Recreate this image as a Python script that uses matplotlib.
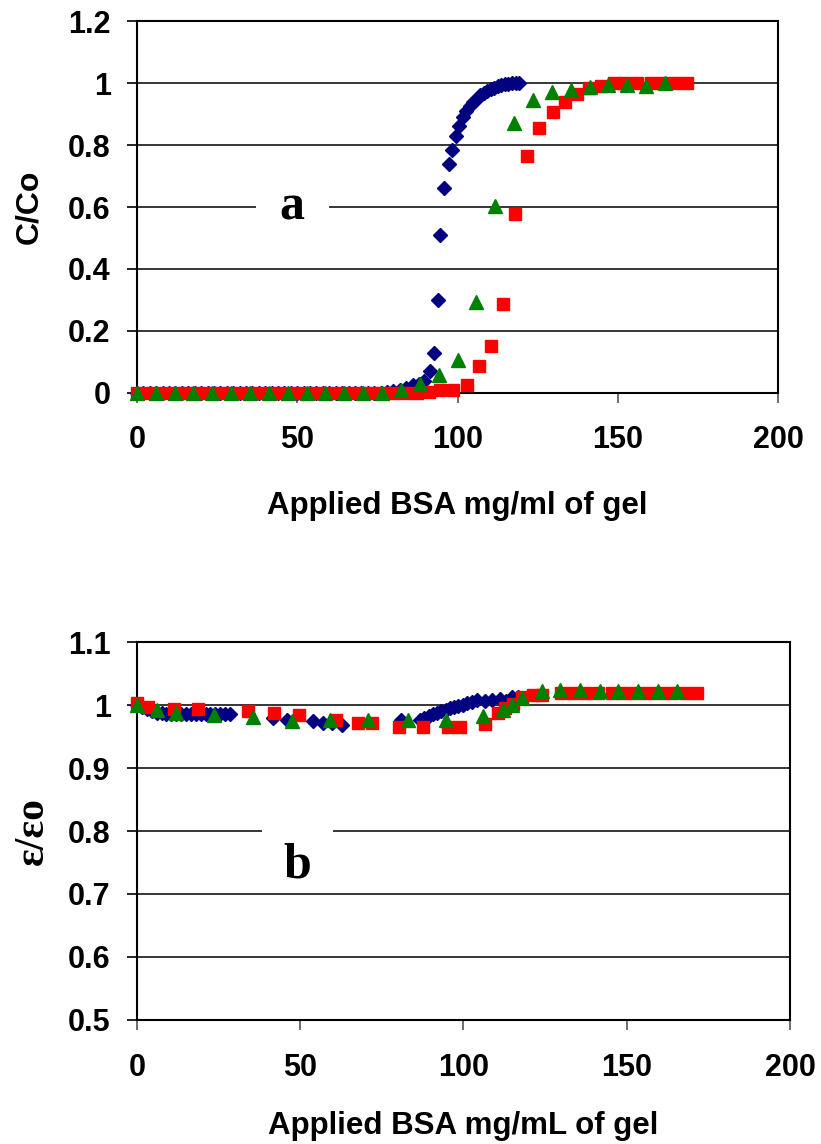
import matplotlib
matplotlib.use("Agg")
import matplotlib.pyplot as plt
from matplotlib.patches import Rectangle

# --- (a) breakthrough curves, C/Co vs applied BSA ---
blue_x_a = [0, 2, 4, 6, 8, 10, 12, 14, 16, 18, 20, 22, 24, 26, 28, 30, 32, 34, 36, 38,
            40, 42, 44, 46, 48, 50, 52, 54, 56, 58, 60, 62, 64, 66, 68, 70, 72, 74, 76, 78,
            80, 82, 84, 86, 88, 89.5, 91.3, 92.8, 94.0, 94.6, 95.9, 97.2, 98.4, 99.6, 100.6,
            101.6, 102.7, 103.8, 104.9, 106.0, 107.1, 108.2, 109.3, 110.4, 111.5, 112.6,
            113.7, 114.8, 115.9, 117.0, 118.1, 119.2]
blue_y_a = [0, 0, 0, 0, 0, 0, 0, 0, 0, 0, 0, 0, 0, 0, 0, 0, 0, 0, 0, 0,
            0, 0, 0, 0, 0, 0, 0, 0, 0, 0, 0, 0, 0, 0, 0, 0, 0, 0, 0, 0.003,
            0.005, 0.01, 0.015, 0.025, 0.03, 0.04, 0.07, 0.13, 0.30, 0.51, 0.66, 0.74, 0.785,
            0.83, 0.86, 0.89, 0.91, 0.925, 0.94, 0.95, 0.96, 0.967, 0.974, 0.98, 0.985, 0.99,
            0.993, 0.996, 0.998, 1.0, 1.0, 1.0]

red_x_a = [0, 3.8, 7.6, 11.4, 15.2, 19.0, 22.8, 26.6, 30.4, 34.2, 38.0, 41.8, 45.6, 49.4,
           53.2, 57.0, 60.8, 64.6, 68.4, 72.2, 76.0, 79.8, 83.6, 87.4, 91.2, 94.4, 98.5,
           103.0, 106.8, 110.6, 114.3, 118.0, 121.7, 125.5, 129.9, 133.6, 137.4, 141.1,
           144.9, 148.9, 152.0, 156.0, 160.4, 164.0, 168.0, 171.6]
red_y_a = [0, 0, 0, 0, 0, 0, 0, 0, 0, 0, 0, 0, 0, 0,
           0, 0, 0, 0, 0, 0, 0, 0, 0, 0, 0.003, 0.008, 0.01,
           0.025, 0.087, 0.15, 0.287, 0.577, 0.764, 0.855, 0.906, 0.94, 0.965, 0.985,
           0.99, 1.0, 1.0, 1.0, 1.0, 1.0, 1.0, 1.0]

green_x_a = [0, 5.9, 11.8, 17.6, 23.5, 29.4, 35.3, 41.2, 47.1, 53.0, 58.8, 64.7, 70.6,
             76.5, 82.4, 88.3, 94.1, 100.0, 105.9, 111.8, 117.7, 123.6, 129.5, 135.3,
             141.2, 147.1, 153.0, 158.9, 164.8]
green_y_a = [0, 0, 0, 0, 0, 0, 0, 0, 0, 0, 0, 0, 0,
             0, 0.01, 0.03, 0.058, 0.107, 0.295, 0.604, 0.87, 0.945, 0.97, 0.977,
             0.987, 0.993, 0.993, 0.99, 1.0]

# --- (b) relative dielectric value vs applied BSA ---
blue_x_b = [0, 1.5, 3, 4.5, 6, 7.5, 9, 10.5, 12, 13.5, 15, 16.5, 18, 19.5, 21, 22.5, 24,
            25.5, 27, 28.5, 41.7, 46, 54, 57, 59.7, 62.8, 81, 86.7, 88, 89.3, 90.6, 91.9,
            93.2, 94.5, 95.8, 97.1, 98.4, 99.7, 101, 102.5, 104, 106.5, 108.7, 111.2, 113,
            114.9, 116.7]
blue_y_b = [1.0, 0.997, 0.993, 0.99, 0.988, 0.987, 0.986, 0.985, 0.985, 0.985, 0.985,
            0.985, 0.985, 0.985, 0.985, 0.985, 0.985, 0.985, 0.985, 0.985, 0.979, 0.976,
            0.975, 0.972, 0.972, 0.968, 0.976, 0.976, 0.979, 0.982, 0.985, 0.987, 0.99,
            0.992, 0.995, 0.997, 0.999, 1.0, 1.003, 1.005, 1.008, 1.006, 1.008, 1.01,
            1.006, 1.012, 1.012]

red_x_b = [0, 3.4, 11.4, 18.7, 34, 42, 49.6, 61, 67.8, 72, 80.3, 87.6, 95.3, 98.9, 106.6,
           110.6, 112.7, 115.2, 117.9, 121.3, 123.9, 130, 133.5, 137.3, 141.1, 145.4,
           148.9, 152.6, 156.4, 160.2, 164.0, 167.8, 171.5]
red_y_b = [1.003, 0.997, 0.994, 0.994, 0.99, 0.987, 0.984, 0.976, 0.971, 0.971, 0.965,
           0.965, 0.965, 0.965, 0.97, 0.987, 0.995, 1.002, 1.012, 1.016, 1.016, 1.019,
           1.019, 1.019, 1.019, 1.019, 1.019, 1.019, 1.019, 1.019, 1.019, 1.019, 1.019]

green_x_b = [0, 6, 12, 23.5, 35.5, 47.5, 59, 70.6, 83, 94.6, 106, 112.1, 114.9, 117.9,
             124, 129.6, 135.7, 141.8, 147.3, 153.4, 159.6, 165.4]
green_y_b = [1.0, 0.992, 0.987, 0.984, 0.981, 0.975, 0.976, 0.976, 0.976, 0.976, 0.982,
             0.992, 1.0, 1.011, 1.022, 1.024, 1.024, 1.022, 1.022, 1.022, 1.022, 1.022]

x_ticks = [0, 50, 100, 150, 200]

sans = "Liberation Sans"
serif = "Liberation Serif"

fig = plt.figure(figsize=(8.21, 11.44), dpi=100)
ax1 = fig.add_axes([0.1669, 0.6565, 0.7807, 0.3251])
ax2 = fig.add_axes([0.1669, 0.1084, 0.7953, 0.3304])


def style(ax, xpad):
    ax.set_xlim(0, 200)
    ax.set_xticks(x_ticks)
    for s in ax.spines.values():
        s.set_color("black")
        s.set_linewidth(1.5)
    ax.grid(axis="y", color="black", linewidth=1.1)
    ax.set_axisbelow(True)
    ax.tick_params(axis="x", direction="out", length=7, width=1.2, color="#555555",
                   pad=xpad, labelsize=22)
    ax.tick_params(axis="y", direction="out", length=7, width=1.2, color="black",
                   pad=12, labelsize=22)
    for lab in ax.get_xticklabels() + ax.get_yticklabels():
        lab.set_fontfamily(sans)
        lab.set_fontweight("bold")


def scatter_sets(ax, data):
    ax.plot(data[0], data[1], "D", color="#000080", ms=6.8, mec="#000080",
            clip_on=False, zorder=3)
    ax.plot(data[2], data[3], "s", color="#ff0000", ms=8.8, mec="#ff0000",
            clip_on=False, zorder=4)
    ax.plot(data[4], data[5], "^", color="#008000", ms=10.5, mec="#008000",
            clip_on=False, zorder=5)


scatter_sets(ax1, [blue_x_a, blue_y_a, red_x_a, red_y_a, green_x_a, green_y_a])
ax1.set_ylim(0, 1.2)
ax1.set_yticks([0, 0.2, 0.4, 0.6, 0.8, 1, 1.2])
ax1.set_yticklabels(["0", "0.2", "0.4", "0.6", "0.8", "1", "1.2"])
style(ax1, 16)
ax1.set_ylabel("C/Co", fontfamily=sans, fontweight="bold", fontsize=23)
ax1.yaxis.set_label_coords(-0.168, 0.5)
ax1.yaxis.label.set_va("center")
ax1.set_xlabel("Applied BSA mg/ml of gel", fontfamily=sans, fontweight="bold",
               fontsize=22.5)
ax1.xaxis.set_label_coords(0.5, -0.304)
ax1.xaxis.label.set_va("center")
ax1.add_patch(Rectangle((37.1, 0.52), 22.7, 0.16, facecolor="white",
                        edgecolor="none", zorder=1))
ax1.text(48.3, 0.6, "a", fontfamily=serif, fontweight="bold", fontsize=36,
         ha="center", va="center", zorder=2)

scatter_sets(ax2, [blue_x_b, blue_y_b, red_x_b, red_y_b, green_x_b, green_y_b])
ax2.set_ylim(0.5, 1.1)
ax2.set_yticks([0.5, 0.6, 0.7, 0.8, 0.9, 1, 1.1])
ax2.set_yticklabels(["0.5", "0.6", "0.7", "0.8", "0.9", "1", "1.1"])
style(ax2, 17)
ax2.set_ylabel("\u03b5/\u03b5o", fontfamily=serif, fontweight="bold", fontsize=30)
ax2.yaxis.set_label_coords(-0.159, 0.5)
ax2.yaxis.label.set_va("center")
ax2.set_xlabel("Applied BSA mg/mL of gel", fontfamily=sans, fontweight="bold",
               fontsize=22.5)
ax2.xaxis.set_label_coords(0.5, -0.281)
ax2.xaxis.label.set_va("center")
ax2.add_patch(Rectangle((38.3, 0.76), 21.7, 0.08, facecolor="white",
                        edgecolor="none", zorder=1))
ax2.text(49.0, 0.745, "b", fontfamily=serif, fontweight="bold", fontsize=36,
         ha="center", va="center", zorder=2)

fig.savefig("out.png", dpi=100)
